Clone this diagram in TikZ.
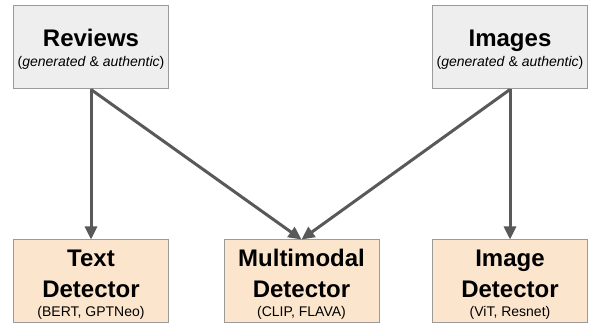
\documentclass[tikz,border=0pt]{standalone}
\usepackage{fontspec}
\setmainfont{Liberation Sans}
\usetikzlibrary{arrows.meta}
\definecolor{topfill}{HTML}{EEEEEE}
\definecolor{botfill}{HTML}{FCE5CD}
\definecolor{edgegray}{HTML}{9A9A9A}
\definecolor{arrowgray}{HTML}{595959}
\begin{document}
\begin{tikzpicture}[x=1pt,y=1pt,
  box/.style={draw=edgegray,line width=1pt,minimum width=155pt,minimum height=83pt,inner sep=0pt},
  srcbox/.style={box,fill=topfill},
  detbox/.style={box,fill=botfill},
  title/.style={font=\bfseries\fontsize{24}{24}\selectfont,anchor=base,inner sep=0pt},
  subtext/.style={font=\fontsize{14}{14}\selectfont,anchor=base,inner sep=0pt},
  flow/.style={draw=arrowgray,line width=3pt,-{Triangle[length=13pt,width=12pt]}}]
\useasboundingbox (0,0) rectangle (590,327);
\node[srcbox] (rev) at (91,279.5) {};
\node[srcbox] (img) at (510,279.5) {};
\node[detbox] (txt) at (91,45.5) {};
\node[detbox] (mm) at (301.5,45.5) {};
\node[detbox] (imd) at (510,45.5) {};
% texts
\node[title] (revt) at (91,280) {Reviews};
\node[subtext] (revs) at (91,260) {(\textit{generated} \& \textit{authentic})};
\node[title] (imgt) at (510,280) {Images};
\node[subtext] (imgs) at (510,260) {(\textit{generated} \& \textit{authentic})};
\node[title] (txt1) at (91,60) {Text};
\node[title] (txt2) at (91,29) {Detector};
\node[subtext] (txt3) at (91,10) {(BERT, GPTNeo)};
\node[title] (mm1) at (301.5,60) {Multimodal};
\node[title] (mm2) at (301.5,29) {Detector};
\node[subtext] (mm3) at (301.5,10) {(CLIP, FLAVA)};
\node[title] (imd1) at (510,60) {Image};
\node[title] (imd2) at (510,29) {Detector};
\node[subtext] (imd3) at (510,10) {(ViT, Resnet)};
% arrows
\draw[flow] (rev.south) -- (txt.north);
\draw[flow] (rev.south) -- (mm.north);
\draw[flow] (img.south) -- (mm.north);
\draw[flow] (img.south) -- (imd.north);
\end{tikzpicture}
\end{document}
